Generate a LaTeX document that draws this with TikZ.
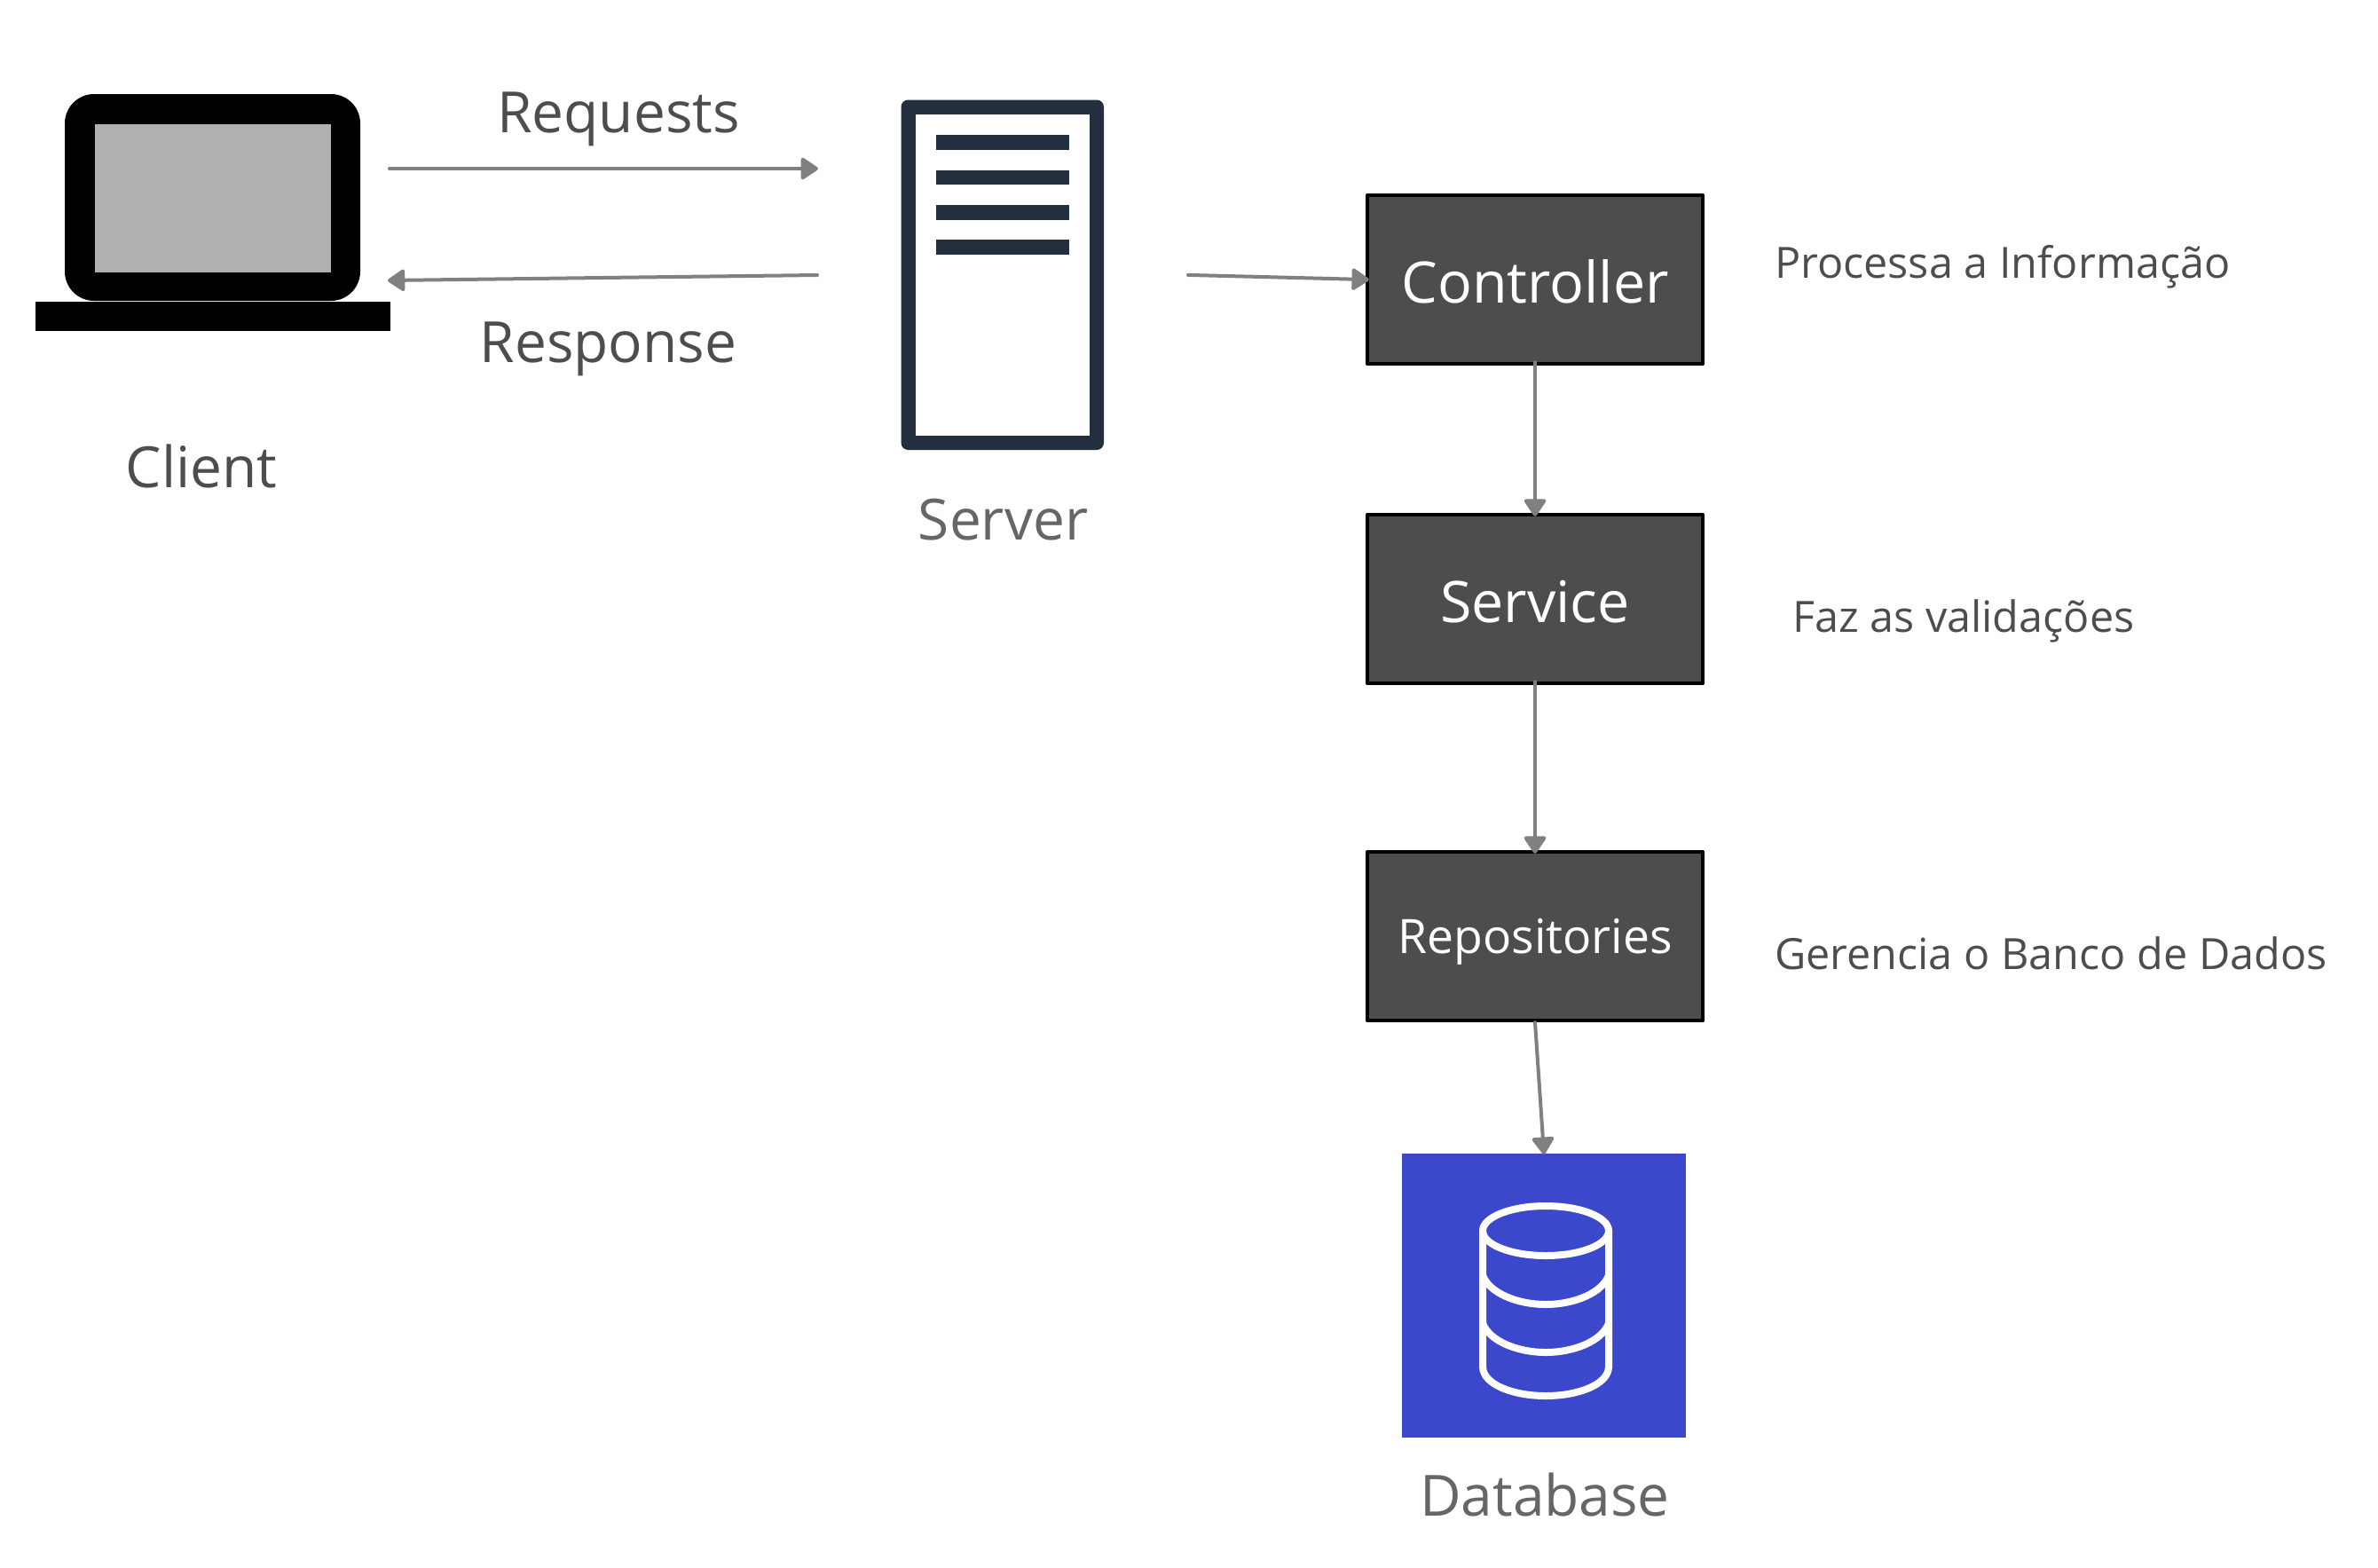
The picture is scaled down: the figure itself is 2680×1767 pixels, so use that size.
\documentclass[tikz,border=0pt]{standalone}
\usepackage{fontspec}
\setmainfont{Open Sans}
\usetikzlibrary{arrows.meta}

\definecolor{navy}{HTML}{232F3E}
\definecolor{boxgray}{HTML}{4D4D4D}
\definecolor{linkgray}{HTML}{808080}
\definecolor{dbblue}{HTML}{3C48CC}
\definecolor{labelgray}{HTML}{666666}

\begin{document}
\begin{tikzpicture}[x=1pt, y=-1pt, line cap=round, line join=round,
    link/.style={draw=linkgray, line width=4pt, -{Triangle[length=21pt,width=27pt,round]}},
    boxlink/.style={link, shorten <=-4pt, shorten >=-4pt},
    layer/.style={draw=black, fill=boxgray, line width=4.5pt, minimum width=378pt, minimum height=190pt, inner sep=0pt, text=white},
    caption/.style={anchor=base, inner sep=0pt, text=boxgray, font=\fontsize{64}{78}\selectfont},
    note/.style={anchor=base west, inner sep=0pt, text=boxgray, font=\fontsize{48.5}{58}\selectfont},
    dbline/.style={draw=white, line width=8pt}]

  %% ════ Client ════
  \fill[black, rounded corners=33pt] (73,106) rectangle (406,339);
  \fill[black!31] (106.5,140) rectangle (373,307);
  \fill[black] (40,340) rectangle (440,373);
  \node[caption] (client) at (227,549) {Client};

  %% ════ Server ════
  \fill[navy, rounded corners=8pt] (1015.5,112.5) rectangle (1244,507);
  \fill[white] (1032,129) rectangle (1228,491);
  \fill[navy] (1055,152) rectangle (1205,169);
  \fill[navy] (1055,191.5) rectangle (1205,208);
  \fill[navy] (1055,231) rectangle (1205,247.5);
  \fill[navy] (1055,270) rectangle (1205,287);
  \node[caption, text=labelgray] (server) at (1130.5,608.5) {Server};

  %% ════ Layers ════
  \node[layer] (controller) at (1730,315) {\raisebox{-26pt}[0pt][0pt]{\fontsize{64.5}{78}\selectfont Controller}};
  \node[layer] (service) at (1730,675) {\raisebox{-26pt}[0pt][0pt]{\fontsize{64.5}{78}\selectfont Service}};
  \node[layer] (repositories) at (1730,1055) {\raisebox{-19.5pt}[0pt][0pt]{\fontsize{53.5}{65}\selectfont Repositories}};

  %% ════ Database ════
  \node[fill=dbblue, minimum size=320pt, inner sep=0pt] (database) at (1740,1460) {};
  \draw[dbline] (1742,1387) ellipse [x radius=71, y radius=28];
  \draw[dbline] (1671,1387) -- (1671,1540) .. controls (1671,1560) and (1705,1573) .. (1742,1573)
    .. controls (1779,1573) and (1813,1560) .. (1813,1540) -- (1813,1387);
  \draw[dbline] (1671,1437) .. controls (1678,1457) and (1710,1470) .. (1742,1470)
    .. controls (1774,1470) and (1806,1457) .. (1813,1437);
  \draw[dbline] (1671,1491) .. controls (1678,1511) and (1710,1524) .. (1742,1524)
    .. controls (1774,1524) and (1806,1511) .. (1813,1491);
  \node[caption, text=labelgray] (dbname) at (1741,1708.5) {Database};

  %% ════ Free ends ════
  \coordinate (reqfrom) at (439,190);
  \coordinate (reqto) at (922,190);
  \coordinate (respfrom) at (921,310);
  \coordinate (respto) at (437,316);
  \coordinate (srvout) at (1343,310);

  %% ════ Connectors ════
  \draw[link] (reqfrom) -- (reqto);
  \draw[link] (respfrom) -- (respto);
  \draw[boxlink] (srvout) -- (controller.west);
  \draw[boxlink] (controller.south) -- (service.north);
  \draw[boxlink] (service.south) -- (repositories.north);
  \draw[link, shorten >=-1pt] (repositories.south) -- (database.north);

  %% ════ Labels ════
  \node[caption] (requests) at (697,149) {Requests};
  \node[caption] (response) at (685.5,408.5) {Response};
  \node[note] (noteproc) at (2000,313) {Processa a Informação};
  \node[note] (notefaz) at (2020,712.5) {Faz as validações};
  \node[note] (notedb) at (2000,1092) {Gerencia o Banco de Dados};

  % fix the canvas
  \pgfresetboundingbox
  \path[use as bounding box] (0,0) rectangle (2680,1767);
\end{tikzpicture}
\end{document}
